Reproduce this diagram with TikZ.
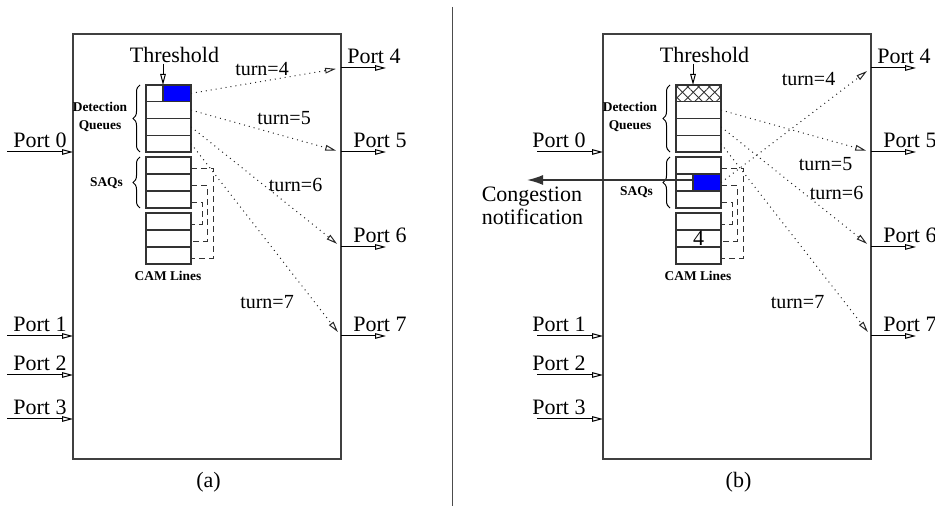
\documentclass[tikz,border=0pt]{standalone}
\usepackage{fontspec}
\setmainfont{Liberation Serif}
\usetikzlibrary{arrows.meta,patterns.meta,decorations.pathreplacing,positioning}

\tikzset{
  switchbox/.style={draw=black!75, line width=0.75pt, minimum width=134pt, minimum height=212.5pt, inner sep=0pt},
  cell/.style={draw=black!80, line width=0.6pt, minimum width=22.5pt, minimum height=8.45pt, inner sep=0pt, outer sep=0pt},
  bluecell/.style={cell, fill=blue, minimum width=14pt},
  port/.style={line width=0.5pt, -{Triangle[open,length=5.5pt,width=2.8pt]}},
  turnline/.style={dotted, black!85, line width=0.5pt, shorten >=2.5pt, -{Triangle[open,length=5.5pt,width=2.8pt]}},
  camlink/.style={dash pattern=on 3pt off 2pt, black!80, line width=0.5pt},
  congest/.style={black!80, line width=0.8pt, -{Latex[length=8pt,width=5pt]}},
  portlabel/.style={font=\fontsize{11}{13}\selectfont, inner sep=0pt, anchor=base west},
  turnlabel/.style={font=\fontsize{10}{12}\selectfont, inner sep=0pt},
  tinylabel/.style={font=\fontsize{6.7}{9}\selectfont\bfseries, align=center, inner sep=0pt},
  qbrace/.style={decorate, decoration={brace, amplitude=3.5pt}, line width=0.5pt},
}

% one switch: #1 prefix, #2 caption, #3 y of the SAQs label, #4 x of the input labels
\newcommand{\switchpanel}[4]{%
  \node[switchbox] (#1-box) at (207,246.5) {};
  \foreach \n/\y in {0/152,1/336,2/375,3/419} {
    \coordinate (#1-s\n) at (7,\y);
    \coordinate (#1-i\n) at (73,\y);
    \draw[port] (#1-s\n) -- (#1-i\n);
    \node[portlabel] (#1-in\n) at (#4,{\y-4}) {Port \n};
  }
  \foreach \n/\y/\lx in {4/68/347,5/152/353,6/247/353,7/336/353} {
    \coordinate (#1-o\n) at (341,\y);
    \coordinate (#1-e\n) at (386,\y);
    \draw[port] (#1-o\n) -- (#1-e\n);
    \node[portlabel] (#1-out\n) at (\lx,{\y-4}) {Port \n};
  }
  % queue stack
  \foreach \r in {1,...,4}
    \node[cell] (#1-d\r) at (168.5,{93.375+16.75*(\r-1)}) {};
  \foreach \r in {1,2,3} {
    \node[cell] (#1-q\r) at (168.5,{165.5+17*(\r-1)}) {};
    \node[cell] (#1-c\r) at (168.5,{221.5+17*(\r-1)}) {};
  }
  \draw[qbrace] (140,152) -- (140,85);
  \draw[qbrace] (140,208) -- (140,157);
  \node[tinylabel] (#1-dq) at (100,117) {Detection\\Queues};
  \node[tinylabel] (#1-saq) at (106.5,#3) {SAQs};
  \node[tinylabel] (#1-cam) at (168,276) {CAM Lines};
  \draw[camlink] ([yshift=-1.5pt]#1-q1.east) -- ++(22,0) |- ([yshift=-1.5pt]#1-c3.east);
  \draw[camlink] ([yshift=-1.5pt]#1-q2.east) -- ++(16,0) |- ([yshift=-1.5pt]#1-c2.east);
  \draw[camlink] ([yshift=-1.5pt]#1-q3.east) -- ++(11,0) |- ([yshift=-1.5pt]#1-c1.east);
  % threshold
  \node[portlabel, anchor=base] (#1-thr) at (174.5,63) {Threshold};
  \coordinate (#1-tip) at (163,85);
  \draw[port] (#1-tip |- #1-thr.south) -- (#1-tip);
  \node[portlabel, anchor=center] (#1-cap) at (208.5,482) {#2};
}

\begin{document}
\begin{tikzpicture}[x=0.5pt, y=-0.5pt]
  \useasboundingbox (0,0) rectangle (935,506);

  % (a)
  \switchpanel{a}{(a)}{183}{13}
  \node[bluecell] (a-blue) at (177,93.375) {};
  \draw[turnline] (a-blue.east) -- (a-o4);
  \draw[turnline] (a-d2.east) -- (a-o5);
  \draw[turnline] (a-d3.east) -- (a-o6);
  \draw[turnline] (a-d4.east) -- (a-o7);
  \node[turnlabel] (a-t4) at (262,69) {turn=4};
  \node[turnlabel] (a-t5) at (284,118) {turn=5};
  \node[turnlabel] (a-t6) at (295.5,185) {turn=6};
  \node[turnlabel] (a-t7) at (267,302.5) {turn=7};

  \draw[black!70, line width=0.6pt] (452.5,7) -- (452.5,506);

  % (b)
  \begin{scope}[shift={(530,0)}]
    \switchpanel{b}{(b)}{192}{2}
    \fill[pattern={Lines[angle=45,distance=3.8pt,line width=0.4pt]}, pattern color=black!80] (b-d1.south west) rectangle (b-d1.north east);
    \fill[pattern={Lines[angle=-45,distance=3.8pt,line width=0.4pt]}, pattern color=black!80] (b-d1.south west) rectangle (b-d1.north east);
    \draw[black!80, line width=0.6pt] (b-d1.south west) rectangle (b-d1.north east);
    \node[bluecell] (b-blue) at (177,182.5) {};
    \node[font=\fontsize{11}{13}\selectfont, inner sep=0pt] (b-val) at (b-c2) {4};
    \draw[turnline] (b-blue.east) -- (b-o4);
    \draw[turnline] (b-d2.east) -- (b-o5);
    \draw[turnline] (b-d3.east) -- (b-o6);
    \draw[turnline] (b-d4.east) -- (b-o7);
    \node[turnlabel] (b-t4) at (278.5,79) {turn=4};
    \node[turnlabel] (b-t5) at (295.5,164) {turn=5};
    \node[turnlabel] (b-t6) at (306.5,192.5) {turn=6};
    \node[turnlabel] (b-t7) at (267.5,302.5) {turn=7};
    \coordinate (b-cn) at (-3,180);
    \draw[congest] (b-blue.west |- b-cn) -- (b-cn);
    \node[font=\fontsize{11}{11.5}\selectfont, inner sep=0pt, align=left] (b-note) at (2.5,206) {Congestion\\notification};
  \end{scope}
\end{tikzpicture}
\end{document}
